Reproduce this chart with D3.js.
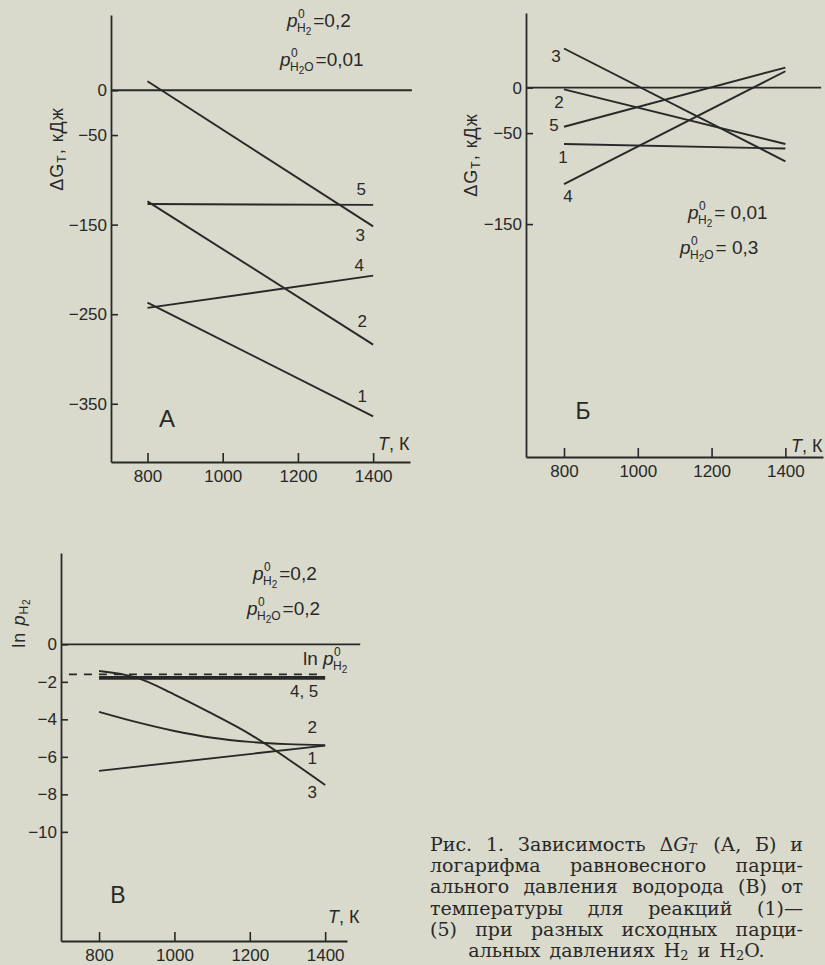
<!DOCTYPE html>
<html lang="ru">
<head>
<meta charset="UTF-8">
<title>Рис. 1</title>
<script src="https://cdn.jsdelivr.net/npm/d3@7"></script>
<style>
    * { box-sizing: border-box; padding: 0; margin: 0; border: 0; }
    body { background: #d9dacb; }
    svg { display: block; }
</style>
</head>
<body>
<svg width="825" height="965"></svg>
<script>
// температуры, К
var tLine = [800, 1400];
var tCurve = [800, 900, 1000, 1100, 1200, 1300, 1400];
var tDash = [720, 1395];

// A: ΔG_T, кДж  (p0 H2 = 0,2; p0 H2O = 0,01)
var dgA1 = [-237, -364];
var dgA2 = [-124, -284];
var dgA3 = [10, -152];
var dgA4 = [-243, -207];
var dgA5 = [-127, -128];

// Б: ΔG_T, кДж  (p0 H2 = 0,01; p0 H2O = 0,3)
var dgB1 = [-62, -67];
var dgB2 = [-2, -62];
var dgB3 = [43, -81];
var dgB4 = [-106, 18];
var dgB5 = [-43, 22];

// В: ln p_H2  (p0 H2 = 0,2; p0 H2O = 0,2)
var lnC1 = [-6.75, -5.4];
var lnC2 = [-3.6, -4.15, -4.62, -4.98, -5.2, -5.32, -5.38];
var lnC3 = [-1.42, -1.78, -2.68, -3.7, -4.79, -6.1, -7.5];
var lnC4 = [-1.74, -1.74];
var lnC5 = [-1.84, -1.84];
var lnP0 = [-1.6, -1.6];

var xTicks = [800, 1000, 1200, 1400];
var yTicksA = [0, -50, -150, -250, -350];
var yTicksB = [0, -50, -150];
var yTicksC = [0, -2, -4, -6, -8, -10];

var ink = "#282828";
var sans = "'Liberation Sans', Arial, sans-serif";
var svg = d3.select("svg");

function fmt(d) { return d === 0 ? "0" : "\u2212" + Math.abs(d); }

function styleAxis(sel) {
    sel.select(".domain").attr("stroke", ink).attr("stroke-width", 1.8);
    sel.selectAll(".tick line").attr("stroke", ink).attr("stroke-width", 1.6);
    sel.selectAll(".tick text").attr("fill", ink)
        .style("font-family", sans).style("font-size", "17px");
}

function drawAxes(x, y, yTicks, zeroEnd) {
    var g = svg.append("g");
    g.append("g")
        .attr("transform", "translate(" + x.range()[0] + ",0)")
        .call(d3.axisLeft(y).tickValues(yTicks).tickFormat(fmt)
            .tickSizeInner(-7).tickSizeOuter(0).tickPadding(4))
        .call(styleAxis);
    g.append("g")
        .attr("transform", "translate(0," + y.range()[1] + ")")
        .call(d3.axisBottom(x).tickValues(xTicks).tickFormat(d3.format("d"))
            .tickSizeInner(-9).tickSizeOuter(0).tickPadding(8))
        .call(styleAxis);
    // нулевая линия
    g.append("line")
        .attr("x1", x.range()[0]).attr("x2", x(zeroEnd))
        .attr("y1", y(0)).attr("y2", y(0))
        .attr("stroke", ink).attr("stroke-width", 1.8);
    return g;
}

function drawSeries(g, x, y, ts, vals, curve) {
    var line = d3.line()
        .x(function (d, i) { return x(ts[i]); })
        .y(function (d) { return y(d); })
        .curve(curve || d3.curveLinear);
    g.append("path").datum(vals)
        .attr("d", line)
        .attr("fill", "none")
        .attr("stroke", ink)
        .attr("stroke-width", 1.9);
}

function label(g, px, py, txt, size) {
    g.append("text").attr("x", px).attr("y", py)
        .attr("text-anchor", "middle").attr("dominant-baseline", "middle")
        .attr("fill", ink).style("font-family", sans)
        .style("font-size", (size || 17) + "px")
        .text(txt);
}

// p⁰ с индексом H2 / H2O
function pLabel(g, px, py, water, val) {
    g.append("text").attr("x", px).attr("y", py).attr("fill", ink)
        .style("font-family", sans).style("font-size", "19px").style("font-style", "italic")
        .text("p");
    g.append("text").attr("x", px + 11).attr("y", py - 9).attr("fill", ink)
        .style("font-family", sans).style("font-size", "12px").text("0");
    var sub = g.append("text").attr("x", px + 10).attr("y", py + 5).attr("fill", ink)
        .style("font-family", sans).style("font-size", "12px");
    sub.append("tspan").text("H");
    sub.append("tspan").attr("dy", 3).style("font-size", "10px").text("2");
    if (water) sub.append("tspan").attr("dy", -3).text("O");
    var w = sub.node().getComputedTextLength();
    g.append("text").attr("x", px + 10 + w + 2).attr("y", py).attr("fill", ink)
        .style("font-family", sans).style("font-size", "19px")
        .text(val);
}

function yTitle(g, cx, cy, parts) {
    var t = g.append("text")
        .attr("transform", "translate(" + cx + "," + cy + ") rotate(-90)")
        .attr("text-anchor", "middle").attr("dominant-baseline", "middle")
        .attr("fill", ink).style("font-family", sans).style("font-size", "18px")
        .style("letter-spacing", "1px");
    parts.forEach(function (p) {
        var s = t.append("tspan").text(p[0]);
        if (p[1]) s.attr("dy", p[1]);
        if (p[2]) s.style("font-size", p[2]);
        if (p[3]) s.style("font-style", p[3]);
    });
}

function xTitle(g, px, py) {
    var t = g.append("text").attr("x", px).attr("y", py).attr("fill", ink)
        .style("font-family", sans).style("font-size", "18px");
    t.append("tspan").style("font-style", "italic").text("T");
    t.append("tspan").text(", К");
}

// ---------- панель А ----------
var xA = d3.scaleLinear().domain([703, 1498]).range([111, 410]);
var yA = d3.scaleLinear().domain([84, -415]).range([15, 462]);
var gA = drawAxes(xA, yA, yTicksA, 1503);
[dgA1, dgA2, dgA3, dgA4, dgA5].forEach(function (v) { drawSeries(gA, xA, yA, tLine, v); });
label(gA, xA(1400) - 11, yA(dgA1[1]) - 19, "1");
label(gA, xA(1400) - 11, yA(dgA2[1]) - 22, "2");
label(gA, xA(1400) - 13, yA(dgA3[1]) + 10, "3");
label(gA, xA(1400) - 14, yA(dgA4[1]) - 9, "4");
label(gA, xA(1400) - 12, yA(dgA5[1]) - 14, "5");
label(gA, 167, 421, "А", 24);
pLabel(gA, 287, 27, false, "=0,2");
pLabel(gA, 280, 66, true, "=0,01");
yTitle(gA, 58, 149, [["ΔG"], ["T", 5, "12px"], [", кДж", -5]]);
xTitle(gA, 378, 450);

// ---------- панель Б ----------
var xB = d3.scaleLinear().domain([697, 1502]).range([526, 823]);
var yB = d3.scaleLinear().domain([82, -406]).range([13, 457]);
var gB = drawAxes(xB, yB, yTicksB, 1497);
[dgB1, dgB2, dgB3, dgB4, dgB5].forEach(function (v) { drawSeries(gB, xB, yB, tLine, v); });
label(gB, xB(800) - 1, yB(dgB1[0]) + 14, "1");
label(gB, xB(800) - 5, yB(dgB2[0]) + 14, "2");
label(gB, xB(800) - 8, yB(dgB3[0]) + 9, "3");
label(gB, xB(800) + 4, yB(dgB4[0]) + 13, "4");
label(gB, xB(800) - 10, yB(dgB5[0]), "5");
label(gB, 583, 413, "Б", 23);
pLabel(gB, 688, 219, false, " = 0,01");
pLabel(gB, 680, 254, true, " = 0,3");
yTitle(gB, 472, 155, [["ΔG"], ["T", 5, "12px"], [", кДж", -5]]);
xTitle(gB, 791, 452);

// ---------- панель В ----------
var xC = d3.scaleLinear().domain([699, 1458]).range([61, 347]);
var yC = d3.scaleLinear().domain([4.87, -15.82]).range([553, 941]);
var gC = drawAxes(xC, yC, yTicksC, 1493);
drawSeries(gC, xC, yC, tLine, lnC1);
drawSeries(gC, xC, yC, tCurve, lnC2, d3.curveMonotoneX);
drawSeries(gC, xC, yC, tCurve, lnC3, d3.curveMonotoneX);
drawSeries(gC, xC, yC, tLine, lnC4);
drawSeries(gC, xC, yC, tLine, lnC5);
gC.append("path").datum(lnP0)
    .attr("d", d3.line().x(function (d, i) { return xC(tDash[i]); }).y(function (d) { return yC(d); }))
    .attr("fill", "none").attr("stroke", ink).attr("stroke-width", 1.7)
    .attr("stroke-dasharray", "8,7");
label(gC, xC(1400) - 21, yC(lnC4[1]) + 16, "4, 5");
label(gC, xC(1400) - 13, yC(lnC2[6]) - 17, "2");
label(gC, xC(1400) - 13, yC(lnC1[1]) + 14, "1");
label(gC, xC(1400) - 13, yC(lnC3[6]) + 9, "3");
label(gC, 118, 897, "В", 23);
pLabel(gC, 253, 580, false, " =0,2");
pLabel(gC, 247, 615, true, " =0,2");
var lnLab = gC.append("text").attr("x", 303).attr("y", 665).attr("fill", ink)
    .style("font-family", sans).style("font-size", "19px");
lnLab.append("tspan").text("ln ");
lnLab.append("tspan").style("font-style", "italic").text("p");
gC.append("text").attr("x", 334).attr("y", 656).attr("fill", ink)
    .style("font-family", sans).style("font-size", "12px").text("0");
var lnSub = gC.append("text").attr("x", 333).attr("y", 670).attr("fill", ink)
    .style("font-family", sans).style("font-size", "12px");
lnSub.append("tspan").text("H");
lnSub.append("tspan").attr("dy", 3).style("font-size", "10px").text("2");
yTitle(gC, 20, 623, [["ln "], ["p", 0, null, "italic"], ["H", 5, "12px"], ["2", 2, "10px"]]);
xTitle(gC, 328, 923);

// ---------- подпись ----------
var cap = svg.append("g");
var capFont = "'DejaVu Serif', 'Liberation Serif', serif";
var capLines = [
    ["Рис.", "1.", "Зависимость", "ΔGT", "(А,", "Б)", "и"],
    ["логарифма", "равновесного", "парци-"],
    ["ального", "давления", "водорода", "(В)", "от"],
    ["температуры", "для", "реакций", "(1)—"],
    ["(5)", "при", "разных", "исходных", "парци-"]
];
var capLeft = 430, capRight = 803, capTop = 851, capStep = 21.2;

function capWord(wd, y) {
    var t = cap.append("text").attr("y", y).attr("fill", ink)
        .style("font-family", capFont).style("font-size", "19px");
    if (wd === "ΔGT") {
        t.append("tspan").text("Δ");
        t.append("tspan").style("font-style", "italic").text("G");
        t.append("tspan").style("font-style", "italic").style("font-size", "12px")
            .attr("dy", 2).text("T");
    } else {
        t.text(wd);
    }
    return t;
}

capLines.forEach(function (words, li) {
    var y = capTop + li * capStep;
    var nodes = words.map(function (w) { return capWord(w, y); });
    var widths = nodes.map(function (n, i) {
        return n.node().getComputedTextLength() + (words[i] === "ΔGT" ? 3 : 0);
    });
    var gap = (capRight - capLeft - d3.sum(widths)) / (words.length - 1);
    var x = capLeft;
    nodes.forEach(function (n, i) {
        n.attr("x", x);
        x += widths[i] + gap;
    });
});

var last = cap.append("text").attr("x", (capLeft + capRight) / 2).attr("y", capTop + 5 * capStep)
    .attr("text-anchor", "middle").attr("fill", ink)
    .style("font-family", capFont).style("font-size", "19px").style("word-spacing", "3px");
last.append("tspan").text("альных давлениях H");
last.append("tspan").attr("dy", 3).style("font-size", "13px").text("2");
last.append("tspan").attr("dy", -3).text(" и H");
last.append("tspan").attr("dy", 3).style("font-size", "13px").text("2");
last.append("tspan").attr("dy", -3).text("O.");
</script>
</body>
</html>
